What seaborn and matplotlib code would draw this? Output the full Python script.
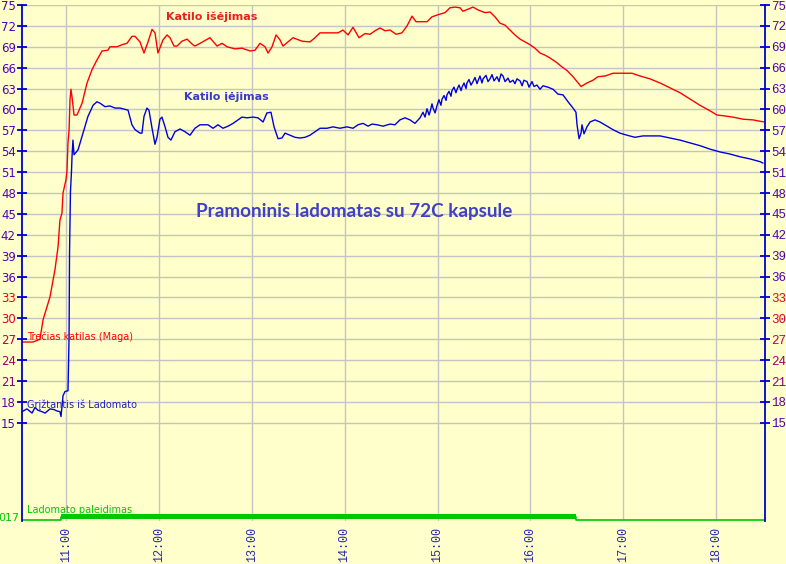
import matplotlib
matplotlib.use("Agg")
import matplotlib.pyplot as plt
import numpy as np
import pandas as pd
import seaborn as sns

# time = minutes after 10:00, values in deg C
red_t = [31.6, 38.7, 43.2, 45.2, 49.7, 52.9, 54.9, 56.1, 57.4, 58.1,
         60.0, 60.7, 61.3, 62.0, 62.6, 63.2, 63.9, 65.2, 67.1, 70.4,
         73.6, 76.8, 80.0, 83.3, 87.1, 88.4, 93.0, 96.2, 99.4, 102.6,
         104.6, 107.8, 110.4, 113.0, 115.6, 117.5, 119.4, 122.7, 125.3, 127.2,
         129.8, 131.7, 134.9, 138.2, 141.4, 143.3, 146.6, 153.0, 157.6, 160.8,
         164.0, 169.2, 173.7, 178.9, 182.1, 185.3, 188.6, 190.5, 193.1, 195.7,
         198.2, 200.2, 203.4, 206.6, 212.5, 217.6, 220.8, 224.1, 230.5, 235.7,
         238.9, 242.2, 245.4, 249.3, 253.1, 256.4, 259.6, 262.8, 266.1, 269.3,
         273.2, 277.0, 280.3, 283.5, 286.1, 293.2, 296.4, 300.3, 304.8, 308.0,
         311.3, 314.5, 316.4, 319.7, 322.9, 326.1, 330.7, 333.9, 337.1, 340.3,
         343.6, 346.8, 350.0, 353.3, 356.5, 359.7, 362.9, 366.2, 369.4, 372.6,
         377.2, 380.4, 383.6, 387.5, 390.1, 392.7, 396.5, 400.4, 403.6, 408.2,
         413.3, 419.8, 425.6, 430.8, 437.2, 443.7, 450.1, 456.6, 463.1, 469.5,
         476.0, 480.5, 484.4, 490.8, 497.3, 503.8, 508.3, 511.5]
red_v = [26.6, 26.6, 27.0, 29.8, 33.1, 37.0, 40.3, 44.1, 45.1, 48.0,
         49.9, 51.3, 55.2, 57.1, 61.4, 62.9, 61.8, 59.2, 59.2, 60.9,
         63.8, 65.7, 67.1, 68.4, 68.5, 69.0, 69.0, 69.3, 69.5, 70.5,
         70.5, 69.7, 68.1, 69.7, 71.5, 71.0, 68.1, 70.0, 70.7, 70.3,
         69.1, 69.1, 69.8, 70.1, 69.4, 69.1, 69.5, 70.3, 69.1, 69.5,
         69.0, 68.7, 68.8, 68.4, 68.5, 69.5, 69.0, 68.1, 69.0, 70.7,
         70.0, 69.1, 69.7, 70.3, 69.8, 69.7, 70.3, 71.0, 71.0, 71.0,
         71.4, 70.7, 71.8, 70.3, 70.9, 70.8, 71.3, 71.7, 71.3, 71.4,
         70.8, 71.0, 72.0, 73.4, 72.6, 72.6, 73.3, 73.6, 73.9, 74.6,
         74.7, 74.6, 74.1, 74.4, 74.7, 74.3, 73.9, 74.0, 73.3, 72.4,
         72.1, 71.4, 70.7, 70.1, 69.7, 69.3, 68.8, 68.1, 67.8, 67.4,
         66.7, 66.1, 65.6, 64.7, 64.0, 63.3, 63.8, 64.2, 64.7, 64.8,
         65.2, 65.2, 65.2, 64.8, 64.4, 63.8, 63.1, 62.4, 61.5, 60.6,
         59.8, 59.2, 59.1, 58.9, 58.6, 58.5, 58.3, 58.2]

blue_t = [31.6, 34.8, 38.1, 40.0, 41.9, 44.5, 46.5, 49.7, 52.3, 54.2,
          56.1, 56.8, 58.1, 59.4, 61.3, 62.0, 62.3, 62.9, 63.6, 63.9,
          64.5, 65.2, 67.8, 71.0, 74.2, 77.5, 80.0, 82.0, 85.2, 88.4,
          91.7, 94.9, 100.1, 102.6, 104.6, 107.8, 109.1, 110.4, 112.3, 113.6,
          115.6, 117.5, 118.8, 120.7, 122.0, 124.0, 125.9, 127.8, 130.4, 133.7,
          136.9, 140.1, 143.3, 146.6, 151.7, 155.0, 158.2, 161.4, 164.7, 167.9,
          171.1, 173.7, 176.9, 180.8, 184.0, 187.3, 189.8, 192.4, 194.4, 197.0,
          199.5, 201.5, 204.7, 207.9, 211.2, 214.4, 217.6, 220.8, 224.1, 228.6,
          232.5, 237.0, 241.5, 245.4, 248.6, 251.9, 255.1, 257.7, 260.9, 264.8,
          269.3, 272.5, 275.7, 279.0, 282.2, 285.4, 288.7, 290.6, 291.9, 293.2,
          294.5, 295.1, 296.4, 297.1, 298.4, 299.6, 300.9, 302.2, 302.9, 304.2,
          305.5, 306.1, 307.4, 308.7, 309.3, 310.6, 311.9, 312.6, 313.9, 315.2,
          315.8, 317.1, 318.4, 319.0, 320.3, 321.6, 322.9, 324.2, 325.5, 326.1,
          327.4, 328.7, 329.4, 331.3, 332.6, 333.9, 335.2, 336.5, 338.4, 339.7,
          341.0, 342.3, 343.6, 345.5, 346.8, 348.7, 350.0, 351.3, 353.3, 354.6,
          355.8, 357.8, 359.1, 361.0, 362.3, 364.2, 366.2, 368.1, 371.3, 374.6,
          377.8, 381.0, 384.3, 387.5, 389.4, 390.1, 391.4, 392.7, 393.3, 394.6,
          396.5, 398.5, 401.7, 404.9, 409.5, 413.3, 417.8, 422.4, 427.5, 432.7,
          439.2, 443.7, 450.1, 456.6, 463.1, 469.5, 476.0, 482.4, 488.9, 495.4,
          501.8, 508.3, 510.2]
blue_v = [16.6, 17.0, 16.4, 17.2, 16.8, 16.6, 16.4, 17.0, 16.9, 16.7,
          16.6, 15.9, 18.9, 19.5, 19.6, 27.3, 39.4, 48.2, 51.3, 53.2,
          55.6, 53.5, 54.2, 56.6, 59.0, 60.6, 61.1, 60.9, 60.4, 60.5,
          60.2, 60.2, 59.9, 57.8, 57.1, 56.6, 56.6, 59.0, 60.2, 59.9,
          57.3, 55.0, 56.0, 58.6, 58.9, 57.5, 56.0, 55.6, 56.8, 57.2,
          56.8, 56.3, 57.3, 57.8, 57.8, 57.3, 57.8, 57.3, 57.6, 58.0,
          58.5, 58.9, 58.8, 58.9, 58.8, 58.2, 59.5, 59.6, 57.5, 55.8,
          55.9, 56.6, 56.3, 56.0, 55.9, 56.0, 56.3, 56.8, 57.3, 57.3,
          57.5, 57.3, 57.5, 57.3, 57.8, 58.0, 57.6, 57.9, 57.8, 57.6,
          57.9, 57.8, 58.5, 58.8, 58.5, 58.0, 58.8, 59.6, 58.9, 60.1,
          59.2, 59.6, 60.8, 60.2, 59.5, 60.5, 61.4, 60.6, 61.5, 62.0,
          61.3, 62.1, 62.6, 61.9, 62.7, 63.2, 62.4, 62.9, 63.5, 62.7,
          63.2, 63.8, 63.0, 63.8, 64.3, 63.5, 64.0, 64.6, 63.7, 64.1,
          64.8, 63.8, 64.4, 64.9, 64.0, 64.4, 65.0, 64.1, 64.7, 64.0,
          65.1, 64.8, 64.0, 64.5, 63.9, 64.2, 63.7, 64.4, 64.1, 63.4,
          64.2, 64.0, 63.2, 64.0, 63.3, 63.5, 62.9, 63.4, 63.2, 62.9,
          62.2, 62.1, 61.1, 60.2, 59.6, 57.8, 55.8, 56.6, 57.8, 56.5,
          57.5, 58.2, 58.5, 58.2, 57.6, 57.1, 56.6, 56.3, 56.0, 56.2,
          56.2, 56.2, 55.9, 55.6, 55.2, 54.8, 54.3, 53.9, 53.6, 53.2,
          52.9, 52.5, 52.3]

# pump start signal (Ladomato paleidimas): off / on / off
green_t = [31.6, 56.8, 389.4, 511.5]
green_on = [0, 1, 0, 0]

hour_ticks = [60, 120, 180, 240, 300, 360, 420, 480]
hour_labels = ["11:00", "12:00", "13:00", "14:00", "15:00", "16:00", "17:00", "18:00"]
temp_ticks = list(range(15, 76, 3))

BG = "#ffffcc"
RED = "#ff0000"
BLUE = "#0000dd"
GREEN = "#00c800"
AXIS = "#0000cc"

sns.set_style("whitegrid", {"axes.facecolor": BG, "figure.facecolor": BG,
                            "grid.color": "#c0c0c0"})
plt.rcParams["font.family"] = ["DejaVu Sans"]

red_df = pd.DataFrame({"t": red_t, "v": red_v})
blue_df = pd.DataFrame({"t": blue_t, "v": blue_v})

fig = plt.figure(figsize=(7.86, 5.64), dpi=100)
ax = fig.add_axes([22 / 786, 43 / 564, 743 / 786, 516 / 564])

sns.lineplot(data=red_df, x="t", y="v", color=RED, lw=1.0, ax=ax,
             estimator=None, sort=False)
sns.lineplot(data=blue_df, x="t", y="v", color=BLUE, lw=1.0, ax=ax,
             estimator=None, sort=False)

green_y = [1.0 + 0.5 * s for s in green_on]
sns.lineplot(x=green_t, y=green_y, color=GREEN, lw=1.2, ax=ax,
             drawstyle="steps-post", estimator=None, sort=False)
ax.fill_between([green_t[1], green_t[2]], 1.22, 1.87, color=GREEN, lw=0)

ax.set_xlim(31.6, 511.5)
ax.set_ylim(0.9, 75)
ax.set_xlabel("")
ax.set_ylabel("")

ax.set_xticks(hour_ticks)
ax.set_xticklabels(hour_labels, rotation=90, family="Liberation Mono",
                   fontsize=8.5, color="#2828b0")
ax.set_yticks(temp_ticks)
ax.grid(True, color="#c4c4c4", lw=1)

ax.tick_params(axis="x", length=0, pad=4)
ax.tick_params(axis="y", direction="inout", length=7, width=1.3, color=AXIS,
               left=True, right=True, labelleft=True, labelright=True,
               labelsize=8.5, pad=1)

# tick label colour goes from red at the top to blue-violet at the bottom
top_c = np.array([0.90, 0.0, 0.10])
bot_c = np.array([0.27, 0.0, 0.78])
for tick in ax.yaxis.get_major_ticks():
    val = tick.get_loc()
    f = (val - 15) / 60
    c = tuple(bot_c + (top_c - bot_c) * f)
    tick.label1.set_color(c)
    tick.label2.set_color(c)
    tick.label2.set_fontfamily("Liberation Mono")
    tick.label2.set_fontsize(9)

for side in ["left", "right"]:
    ax.spines[side].set_visible(True)
    ax.spines[side].set_color(AXIS)
    ax.spines[side].set_linewidth(1.3)
ax.spines["top"].set_visible(False)
ax.spines["bottom"].set_visible(False)

ax.text(154.3, 73.3, "Katilo išėjimas", color="#e82020", fontsize=8,
        fontweight="bold", ha="center", va="center")
ax.text(163.4, 61.8, "Katilo įėjimas", color="#3a3acc", fontsize=8,
        fontweight="bold", ha="center", va="center")
ax.text(246.0, 45.3, "Pramoninis ladomatas su 72C kapsule", color="#4040c8",
        fontsize=13.6, fontweight="bold", family="Lato", ha="center", va="center")

ax.text(34.8, 27.35, "Trečias katilas (Maga)", color=RED, fontsize=7,
        ha="left", va="center")
ax.text(34.8, 17.6, "Grįžtantis iš Ladomato", color="#2020c0", fontsize=7,
        ha="left", va="center")
ax.text(34.8, 2.5, "Ladomato paleidimas", color=GREEN, fontsize=7,
        ha="left", va="center")
ax.text(-0.003, 1.3, "017", color=GREEN, fontsize=8, ha="right", va="center",
        transform=ax.get_yaxis_transform())

fig.savefig("out.png", dpi=100, facecolor=BG)
